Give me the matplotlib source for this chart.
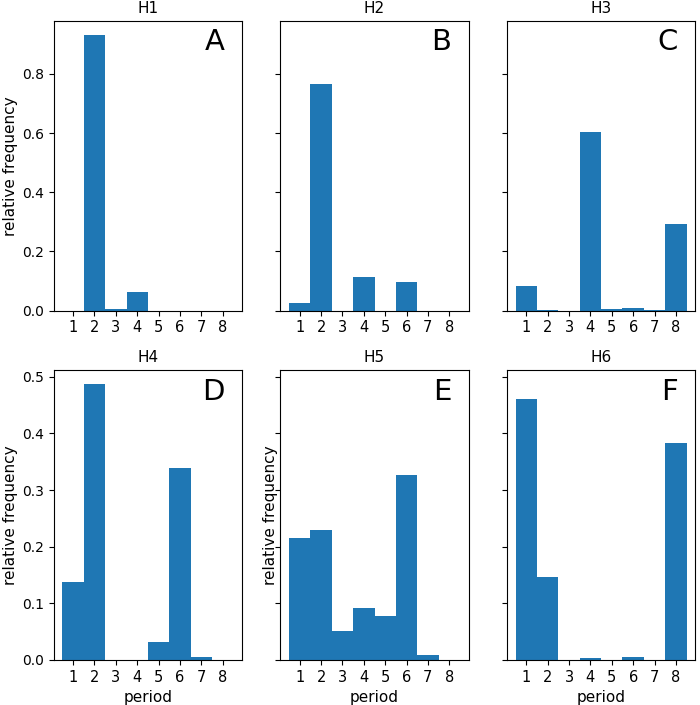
import numpy as np
from matplotlib import pyplot as plt

plt.rcParams['font.size'] = 11
plt.rcParams['xtick.labelsize'] = 10.5
plt.rcParams['ytick.labelsize'] = 10

periods = [1, 2, 3, 4, 5, 6, 7, 8]
titles = ['H1', 'H2', 'H3', 'H4', 'H5', 'H6']
letters = ['A', 'B', 'C', 'D', 'E', 'F']

h1 = [0.0, 0.932, 0.006, 0.063, 0.0, 0.0, 0.0, 0.0]
h2 = [0.024, 0.767, 0.0, 0.115, 0.0, 0.095, 0.0, 0.0]
h3 = [0.082, 0.002, 0.0, 0.605, 0.005, 0.009, 0.002, 0.294]
h4 = [0.137, 0.487, 0.0, 0.0, 0.031, 0.339, 0.005, 0.0]
h5 = [0.215, 0.229, 0.051, 0.091, 0.078, 0.326, 0.009, 0.0]
h6 = [0.461, 0.147, 0.0, 0.003, 0.0, 0.005, 0.0, 0.383]

series = [h1, h2, h3, h4, h5, h6]

fig, axes = plt.subplots(2, 3, figsize=(7.0, 7.05), dpi=100, sharey='row')
fig.subplots_adjust(left=0.077, right=0.993, top=0.970, bottom=0.064,
                    wspace=0.205, hspace=0.207)

for i, ax in enumerate(axes.flat):
    ax.bar(periods, series[i], width=1.0, color='#1f77b4', align='center')
    ax.set_xticks(periods)
    ax.set_title(titles[i], fontsize=11)
    ax.text(0.91, 0.975, letters[i], transform=ax.transAxes,
            ha='right', va='top', fontsize=21)

axes[0, 0].set_ylabel('relative frequency', labelpad=3)
axes[1, 0].set_ylabel('relative frequency', labelpad=3)
axes[1, 1].set_ylabel('relative frequency', labelpad=-2)
for ax in axes[1]:
    ax.set_xlabel('period')

fig.savefig('out.png')
